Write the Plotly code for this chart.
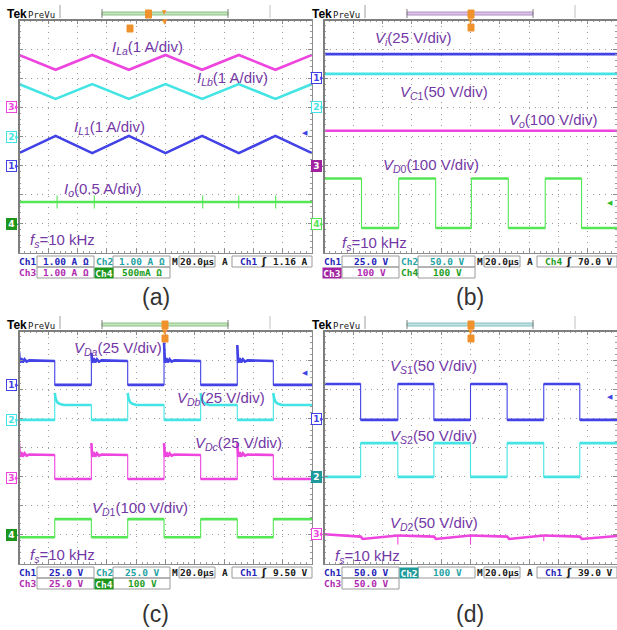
import plotly.graph_objects as go

W, H = 617, 630
GW, GH = 293.0, 233.0          # graticule size in px (10 x 8 divisions)

# ---------------- colours ----------------
BLUE = "#4242E6"
CYAN = "#45E4E4"
MAGENTA = "#EE45DE"
GREEN = "#55E655"
LABEL = "#7338A6"
CH_TXT = {"Ch1": "#2424B8", "Ch2": "#1FA3A3", "Ch3": "#B02AB0", "Ch4": "#1E9E1E"}
CH_FILL = {"Ch1": "#2424B8", "Ch2": "#1E9A9A", "Ch3": "#A0229E", "Ch4": "#1E961E"}

# ---------------- data (screen divisions, x 0..10, y -4..4) ----------------
# (a) inductor / output currents: triangular ripple vertices
TRI_T = [0, 1.25, 2.5, 3.75, 5.0, 6.25, 7.5, 8.75, 10]
I_LA = [2.80, 2.29, 2.80, 2.29, 2.80, 2.29, 2.80, 2.29, 2.80]
I_LB = [1.80, 1.29, 1.80, 1.29, 1.80, 1.29, 1.80, 1.29, 1.80]
I_L1 = [-0.57, 0.02, -0.57, 0.02, -0.57, 0.02, -0.57, 0.02, -0.57]
I_O_LEVEL = -2.25
I_O_SPIKES = [1.30, 2.57, 6.27, 7.50, 8.76]

# (b) voltages
V_I_LEVEL = 2.83
V_C1_LEVEL = 2.15
V_O_LEVEL = 0.20
VD0_EDGES = [1.28, 2.55, 3.81, 5.03, 6.29, 7.55, 8.79]
VD0_HI, VD0_LO = -1.44, -3.14

# (c) diode voltages
C_EDGES = [1.22, 2.47, 3.71, 4.95, 6.20, 7.45, 8.68]
VDA_HI, VDA_LO = 2.97, 2.15
VDA_SPIKES = [3.30, 3.25, 3.60, 3.52]
VDB_HI, VDB_LO = 1.46, 0.95
VDB_SPIKES = [1.87, 1.87, 1.87, 1.87]
VDC_HI, VDC_LO = -0.26, -1.08
VDC_SPIKES = [0.15, 0.15, 0.15, 0.15]
VD1_HI, VD1_LO = -2.46, -3.08
RING_DT = [0.03, 0.08, 0.13, 0.19, 0.26, 0.35]
RING_DV = [-0.06, 0.10, -0.05, 0.06, -0.02, 0.02]
DECAY_DT = [0.03, 0.08, 0.16, 0.30]
DECAY_DV = [0.22, 0.10, 0.04, 0.0]

# (d) switch / diode voltages
D_EDGES = [1.25, 2.52, 3.75, 5.00, 6.25, 7.50, 8.73]
VS1_HI, VS1_LO = 2.18, 0.95
VS2_HI, VS2_LO = 0.15, -1.01
VD2_T = [0, 1.25, 1.32, 2.52, 2.52, 2.52, 3.75, 3.82, 5.0, 5.0, 5.0,
         6.25, 6.32, 7.5, 7.5, 7.5, 8.73, 8.80, 10]
VD2_V = [-2.98, -3.06, -3.14, -3.02, -3.33, -3.02, -3.06, -3.14, -3.02, -3.33, -3.02,
         -3.06, -3.14, -3.02, -3.22, -3.02, -3.06, -3.14, -3.04]

# text content
INFO = {
    "a": dict(v1="1.00 A Ω", v2="1.00 A Ω", v3="1.00 A Ω", v4="500mA Ω",
              trig_ch="Ch1", trig="1.16 A", filled="Ch4"),
    "b": dict(v1="25.0 V", v2="50.0 V", v3="100 V", v4="100 V",
              trig_ch="Ch4", trig="70.0 V", filled="Ch3"),
    "c": dict(v1="25.0 V", v2="25.0 V", v3="25.0 V", v4="100 V",
              trig_ch="Ch1", trig="9.50 V", filled="Ch4"),
    "d": dict(v1="50.0 V", v2="100 V", v3="50.0 V", v4=None,
              trig_ch="Ch1", trig="39.0 V", filled="Ch2"),
}
MARKERS = {   # channel ground markers: (label, level in div, filled)
    "a": [("3", 1.0, False, MAGENTA), ("2", 0.0, False, CYAN), ("1", -1.0, False, BLUE), ("4", -3.0, True, "#1E961E")],
    "b": [("1", 2.0, False, BLUE), ("2", 1.0, False, CYAN), ("3", -1.0, True, "#A0229E"), ("4", -3.0, False, GREEN)],
    "c": [("1", 2.15, False, BLUE), ("2", 0.95, False, CYAN), ("3", -1.05, False, MAGENTA), ("4", -3.0, True, "#1E961E")],
    "d": [("1", 0.98, False, BLUE), ("2", -1.01, True, "#1E9A9A"), ("3", -2.97, False, MAGENTA)],
}
TRIG_LEVEL = {"a": (0.12, BLUE), "b": (-2.30, "#2FC02F"), "c": (2.56, BLUE), "d": (1.73, BLUE)}
BRACKET = {"a": ("#C4E4BC", "#8CC084"), "b": ("#DCC4E6", "#B08CC4"),
           "c": ("#C4E4BC", "#8CC084"), "d": ("#C0E2E2", "#86BEBE")}


def square(edges, lo, hi, start_high, spikes=None, dts=None, dvs=None):
    xs, ys = [], []
    state = {"high": start_high, "k": 0}

    def rise(t):
        if spikes is None:
            return
        xs.append(t); ys.append(spikes[state["k"]]); state["k"] += 1
        for dt, dv in zip(dts, dvs):
            xs.append(t + dt); ys.append(hi + dv)

    xs.append(0); ys.append(hi if state["high"] else lo)
    if state["high"]:
        rise(0)
    for e in edges:
        xs.append(e); ys.append(hi if state["high"] else lo)
        state["high"] = not state["high"]
        xs.append(e); ys.append(hi if state["high"] else lo)
        if state["high"]:
            rise(e)
    xs.append(10); ys.append(hi if state["high"] else lo)
    return xs, ys


def flat(level):
    return [0, 10], [level, level]


def no_verticals(xs, ys):
    """Same path, but break it wherever it goes straight up or down."""
    ox, oy = [], []
    for j, (x, y) in enumerate(zip(xs, ys)):
        if j > 0 and x is not None and xs[j - 1] is not None and x == xs[j - 1]:
            ox.append(None); oy.append(None)
        ox.append(x); oy.append(y)
    return ox, oy


io_x, io_y = flat(I_O_LEVEL)
for s in I_O_SPIKES:
    io_x += [None, s, s]
    io_y += [None, I_O_LEVEL - 0.22, I_O_LEVEL + 0.22]

TRACES = {
    "a": [(TRI_T, I_LA, MAGENTA), (TRI_T, I_LB, CYAN), (TRI_T, I_L1, BLUE), (io_x, io_y, GREEN)],
    "b": [(*flat(V_I_LEVEL), BLUE), (*flat(V_C1_LEVEL), CYAN), (*flat(V_O_LEVEL), MAGENTA),
          (*square(VD0_EDGES, VD0_LO, VD0_HI, True), GREEN)],
    "c": [(*square(C_EDGES, VDA_LO, VDA_HI, True, VDA_SPIKES, RING_DT, RING_DV), BLUE),
          (*square(C_EDGES, VDB_LO, VDB_HI, False, VDB_SPIKES, DECAY_DT, DECAY_DV), CYAN),
          (*square(C_EDGES, VDC_LO, VDC_HI, True, VDC_SPIKES, RING_DT, RING_DV), MAGENTA),
          (*square(C_EDGES, VD1_LO, VD1_HI, False), GREEN)],
    "d": [(*square(D_EDGES, VS1_LO, VS1_HI, True), BLUE),
          (*square(D_EDGES, VS2_LO, VS2_HI, False), CYAN),
          (VD2_T, VD2_V, MAGENTA)],
}

LABELS = {
    "a": [("<i>I</i><sub><i>La</i></sub>(1 A/div)", 110, 48),
          ("<i>I</i><sub><i>Lb</i></sub>(1 A/div)", 195, 78),
          ("<i>I</i><sub><i>L</i>1</sub>(1 A/div)", 72, 128),
          ("<i>I</i><sub><i>o</i></sub>(0.5 A/div)", 62, 189),
          ("<i>f</i><sub><i>s</i></sub>=10 kHz", 28, 241)],
    "b": [("<i>V</i><sub><i>i</i></sub>(25 V/div)", 373, 38),
          ("<i>V</i><sub><i>C</i>1</sub>(50 V/div)", 398, 92),
          ("<i>V</i><sub><i>o</i></sub>(100 V/div)", 507, 120),
          ("<i>V</i><sub><i>D</i>0</sub>(100 V/div)", 381, 166),
          ("<i>f</i><sub><i>s</i></sub>=10 kHz", 340, 244)],
    "c": [("<i>V</i><sub><i>Da</i></sub>(25 V/div)", 72, 348),
          ("<i>V</i><sub><i>Db</i></sub>(25 V/div)", 175, 398),
          ("<i>V</i><sub><i>Dc</i></sub>(25 V/div)", 193, 443),
          ("<i>V</i><sub><i>D</i>1</sub>(100 V/div)", 90, 508),
          ("<i>f</i><sub><i>s</i></sub>=10 kHz", 28, 555)],
    "d": [("<i>V</i><sub><i>S</i>1</sub>(50 V/div)", 388, 366),
          ("<i>V</i><sub><i>S</i>2</sub>(50 V/div)", 388, 436),
          ("<i>V</i><sub><i>D</i>2</sub>(50 V/div)", 388, 523),
          ("<i>f</i><sub><i>s</i></sub>=10 kHz", 333, 556)],
}

PANELS = [dict(key="a", gx=19, gy=20), dict(key="b", gx=324, gy=20),
          dict(key="c", gx=19, gy=331), dict(key="d", gx=324, gy=331)]


def X(px):
    return px / W


def Y(py):
    return 1 - py / H


fig = go.Figure()
shapes, anns = [], []
layout = dict(width=W, height=H, margin=dict(l=0, r=0, t=0, b=0),
              paper_bgcolor="white", plot_bgcolor="white", showlegend=False,
              template="none")

INFO_FONT = "DejaVu Sans Mono"


def txt(text, px, py, size, color, family="Liberation Sans, Arial", xanchor="left",
        weight="normal", **kw):
    d = dict(text=text, x=X(px), y=Y(py), xref="paper", yref="paper", showarrow=False,
             xanchor=xanchor, yanchor="middle",
             font=dict(family=family, size=size, color=color, weight=weight))
    d.update(kw)
    anns.append(d)


def rect(x0, y0, x1, y1, line="#9A9A9A", fill=None, width=1):
    shapes.append(dict(type="rect", xref="paper", yref="paper", x0=X(x0), x1=X(x1),
                       y0=Y(y1), y1=Y(y0), line=dict(color=line, width=width),
                       fillcolor=fill if fill else "rgba(0,0,0,0)", layer="above"))


def vline(x, y0, y1, color, width=1):
    shapes.append(dict(type="line", xref="paper", yref="paper", x0=X(x), x1=X(x),
                       y0=Y(y0), y1=Y(y1), line=dict(color=color, width=width), layer="above"))


def hline(x0, x1, y, color, width=1):
    shapes.append(dict(type="line", xref="paper", yref="paper", x0=X(x0), x1=X(x1),
                       y0=Y(y), y1=Y(y), line=dict(color=color, width=width), layer="above"))


for i, p in enumerate(PANELS):
    k, gx, gy = p["key"], p["gx"], p["gy"]
    sfx = "" if i == 0 else str(i + 1)
    xa, ya = "x" + sfx, "y" + sfx
    common = dict(showgrid=True, gridcolor="#9C9C9C", griddash="1px,4.85px", gridwidth=1,
                  zeroline=False, showticklabels=False, ticks="inside", ticklen=4,
                  tickcolor="#8C8C8C", showline=True, linecolor="#8C8C8C", linewidth=1,
                  mirror="ticks", dtick=1, tick0=0, fixedrange=True,
                  minor=dict(ticks="inside", ticklen=2, dtick=0.2, tickcolor="#9C9C9C",
                             showgrid=False))
    layout["xaxis" + sfx] = dict(common, domain=[X(gx), min(1.0, X(gx + GW))], range=[0, 10],
                                 anchor=ya)
    layout["yaxis" + sfx] = dict(common, domain=[Y(gy + GH), Y(gy)], range=[-4, 4], anchor=xa)

    for xs, ys, col in TRACES[k]:
        # thin full path (edges), then thicker level segments on top
        fig.add_trace(go.Scatter(x=xs, y=ys, mode="lines", line=dict(color=col, width=1.1),
                                 xaxis=xa, yaxis=ya, hoverinfo="skip"))
        hx, hy_ = no_verticals(xs, ys)
        fig.add_trace(go.Scatter(x=hx, y=hy_, mode="lines", line=dict(color=col, width=2.6),
                                 xaxis=xa, yaxis=ya, hoverinfo="skip"))

    # thick left/top graticule border
    vline(gx, gy, gy + GH, "#7E7E7E", 2)
    hline(gx, gx + GW, gy, "#7E7E7E", 2)

    # waveform labels
    for t, lx, ly in LABELS[k]:
        txt(t, lx, ly, 15, LABEL)

    # channel ground markers
    for lab, lvl, filled, col in MARKERS[k]:
        anns.append(dict(text=lab, x=X(gx - 8), y=lvl, xref="paper", yref=ya, showarrow=False,
                         xanchor="center", yanchor="middle",
                         font=dict(family="DejaVu Sans", size=9,
                                   color="white" if filled else col, weight="bold"),
                         bgcolor=col if filled else "white", bordercolor=col, borderwidth=1,
                         borderpad=0, width=9, height=10))
        anns.append(dict(text="▸", x=X(gx - 2), y=lvl, xref="paper", yref=ya, showarrow=False,
                         xanchor="center", yanchor="middle",
                         font=dict(family="DejaVu Sans", size=7, color=col)))

    # trigger level arrow
    tl, tc = TRIG_LEVEL[k]
    anns.append(dict(text="◀", x=X(gx + 286), y=tl, xref="paper", yref=ya, showarrow=False,
                     xanchor="center", yanchor="middle",
                     font=dict(family="DejaVu Sans", size=7, color=tc)))

    # header
    hy = gy - 6
    txt("Tek", gx - 14, hy, 12, "black", weight="bold", family="Liberation Sans, Arial")
    txt("PreVu", gx + 7, hy + 0.5, 9, "#202020", family=INFO_FONT)
    vline(gx + 41, gy - 15, gy - 2, "#A0A0A0")
    vline(gx + 251, gy - 15, gy - 2, "#C0C0C0")
    fill, edge = BRACKET[k]
    rect(gx + 83, hy - 2, gx + 209, hy + 1, line=edge, fill=fill)
    vline(gx + 83, hy - 5, hy + 4, "#808080")
    vline(gx + 209, hy - 5, hy + 4, "#808080")
    orange = "#F0922C"
    if k == "a":
        rect(gx + 126.5, hy - 4, gx + 132.5, hy + 4, line=orange, fill=orange)
        txt("▼", gx + 146, hy - 3, 6, orange, xanchor="center", family="DejaVu Sans")
        txt("▼", gx + 146, gy + 2, 7, orange, xanchor="center", family="DejaVu Sans")
        rect(gx + 108, gy + 5, gx + 114, gy + 12, line=orange, fill=orange)
    else:
        mx = gx + 147 if k in ("b", "d") else gx + 146
        rect(mx - 3, hy - 4, mx + 3, hy + 4, line=orange, fill=orange)
        txt("▼", mx, gy + 1, 7, orange, xanchor="center", family="DejaVu Sans")
        rect(mx - 3, gy + 4, mx + 3, gy + 11, line=orange, fill=orange)

    # info boxes under the graticule
    inf = INFO[k]
    gb = gy + GH
    r1, r2 = gb + 8.7, gb + 19.7
    rect(gx + 18, gb + 3, gx + 75, gb + 14)
    rect(gx + 94, gb + 3, gx + 151, gb + 14)
    rect(gx + 160, gb + 3, gx + 196, gb + 14)
    rect(gx + 213, gb + 3, gx + 293, gb + 14)
    rect(gx + 18, gb + 14, gx + 75, gb + 25)
    if inf["v4"]:
        rect(gx + 94, gb + 14, gx + 151, gb + 25)
    rows = [("Ch1", gx + 8, r1, inf["v1"], gx + 47), ("Ch2", gx + 85, r1, inf["v2"], gx + 123),
            ("Ch3", gx + 8, r2, inf["v3"], gx + 47)]
    if inf["v4"]:
        rows.append(("Ch4", gx + 85, r2, inf["v4"], gx + 123))
    for ch, cx, cy, val, vx in rows:
        if inf["filled"] == ch:
            anns.append(dict(text=ch, x=X(cx), y=Y(cy), xref="paper", yref="paper",
                             showarrow=False, xanchor="center", yanchor="middle",
                             font=dict(family=INFO_FONT, size=9.5, color="white", weight="bold"),
                             bgcolor=CH_FILL[ch], borderpad=0, width=18, height=10))
        else:
            txt(ch, cx, cy, 9.5, CH_TXT[ch], family=INFO_FONT, xanchor="center", weight="bold")
        txt(val, vx, cy, 9.5, CH_TXT[ch], family=INFO_FONT, xanchor="center", weight="bold")
    txt("M", gx + 156, r1, 9.5, "#202020", family=INFO_FONT, xanchor="center", weight="bold")
    txt("20.0µs", gx + 178, r1, 9.5, "#202020", family=INFO_FONT, xanchor="center", weight="bold")
    txt("A", gx + 206, r1, 9.5, "#202020", family=INFO_FONT, xanchor="center", weight="bold")
    txt(inf["trig_ch"], gx + 229, r1, 9.5, CH_TXT[inf["trig_ch"]], family=INFO_FONT,
        xanchor="center", weight="bold")
    txt("ʃ", gx + 245, r1, 10, "#202020", family="DejaVu Sans", xanchor="center",
        weight="bold")
    txt(inf["trig"], gx + 291, r1, 9.5, "#202020", family=INFO_FONT, xanchor="right",
        weight="bold")

    # panel caption
    cap_x = 156 if k in ("a", "c") else 470
    cap_y = 297 if k in ("a", "b") else 614
    txt("(" + k + ")", cap_x, cap_y, 23, "#333333", xanchor="center")

layout["shapes"] = shapes
layout["annotations"] = anns
fig.update_layout(**layout)
fig.write_html("out.html", config={"displayModeBar": False},
               post_script="document.body.style.margin='0';document.body.style.padding='0';"
                           "document.body.style.overflow='hidden';")
